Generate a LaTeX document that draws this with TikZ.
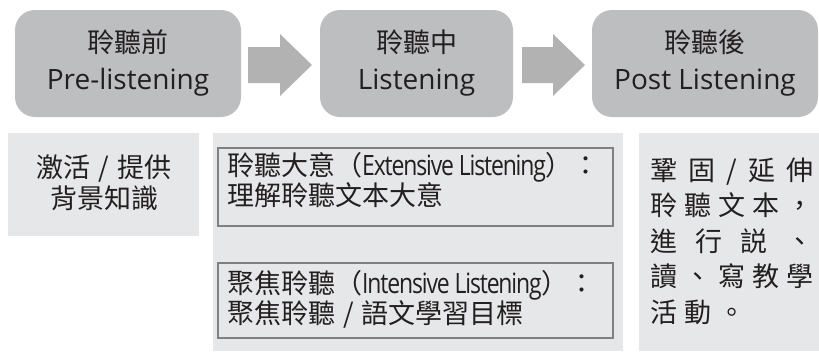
\documentclass[tikz,border=0pt]{standalone}
\usepackage{fontspec}
\usepackage{graphicx}
\setmainfont{Open Sans}
\newfontfamily\cjk{Noto Sans CJK TC}
\newfontfamily\latcond{Open Sans}[LetterSpace=-5]
\definecolor{topfill}{RGB}{189,190,192}
\definecolor{arrowfill}{RGB}{178,178,178}
\definecolor{lowfill}{RGB}{230,231,232}
\definecolor{innerline}{RGB}{128,128,128}
\definecolor{txt}{RGB}{35,31,32}
\tikzset{
  topbox/.style={fill=topfill, rounded corners=20pt},
  lowbox/.style={fill=lowfill},
  innerbox/.style={draw=innerline, line width=1.6pt, fill=lowfill},
  blockarrow/.style={fill=arrowfill},
  cjktxt/.style={inner sep=0pt, text=txt, font=\cjk\fontsize{27pt}{30pt}\selectfont},
  lattxt/.style={inner sep=0pt, text=txt, font=\fontsize{28pt}{32pt}\selectfont},
}
\newcommand{\condlat}[1]{\scalebox{0.82}[1]{\latcond\fontsize{28pt}{30pt}\selectfont #1}}
\newcommand{\wslash}{\hspace{8pt}/\hspace{8pt}}
\begin{document}
\begin{tikzpicture}[x=1pt,y=-1pt]
\useasboundingbox (0,0) rectangle (819,351);
% top boxes
\fill[topbox] (15,10) rectangle (241,117);
\fill[topbox] (320,10) rectangle (513,117);
\fill[topbox] (592,10) rectangle (818,117);
\node[cjktxt, anchor=base] (t1a) at (128,52) {聆聽前};
\node[lattxt, anchor=base] (t1b) at (128,89) {Pre-listening};
\node[cjktxt, anchor=base] (t2a) at (416.5,52) {聆聽中};
\node[lattxt, anchor=base] (t2b) at (416.5,89) {Listening};
\node[cjktxt, anchor=base] (t3a) at (705,52) {聆聽後};
\node[lattxt, anchor=base] (t3b) at (705,89) {Post Listening};
% block arrows
\fill[blockarrow] (248,47) -- (280,47) -- (280,34) -- (312,65) -- (280,96) -- (280,83) -- (248,83) -- cycle;
\fill[blockarrow] (522,47) -- (553,47) -- (553,34) -- (585,65) -- (553,96) -- (553,83) -- (522,83) -- cycle;
% lower boxes
\fill[lowbox] (8,133) rectangle (199,236);
\fill[lowbox] (213,133) rectangle (623,351);
\fill[lowbox] (639,133) rectangle (819,351);
% left text
\node[cjktxt, anchor=base] (l1) at (104,177) {激活\wslash 提供};
\node[cjktxt, anchor=base] (l2) at (104,208) {背景知識};
% inner boxes
\draw[innerbox] (218,148) rectangle (613,226);
\draw[innerbox] (218,263) rectangle (613,338);
\node[cjktxt, anchor=base west] (m1) at (227,175) {聆聽大意（\condlat{Extensive Listening}）：};
\node[cjktxt, anchor=base west] (m2) at (227,205) {理解聆聽文本大意};
\node[cjktxt, anchor=base west] (m3) at (227,293) {聚焦聆聽（\condlat{Intensive Listening}）：};
\node[cjktxt, anchor=base west] (m4) at (227,323) {聚焦聆聽\wslash 語文學習目標};
% right text
\node[cjktxt, anchor=base west] (r1) at (650,180) {\makebox[163pt][l]{鞏\hfill 固\hfill /\hfill 延\hfill 伸}};
\node[cjktxt, anchor=base west] (r2) at (650,215.5) {\makebox[163pt][l]{聆\hfill 聽\hfill 文\hfill 本\hfill ，}};
\node[cjktxt, anchor=base west] (r3) at (650,251) {\makebox[163pt][l]{進\hfill 行\hfill 説\hfill 、}};
\node[cjktxt, anchor=base west] (r4) at (650,286.5) {\makebox[163pt][l]{讀\hfill 、\hfill 寫\hfill 教\hfill 學}};
\node[cjktxt, anchor=base west] (r5) at (650,322) {活\hspace{7pt}動\hspace{7pt}。};
\end{tikzpicture}
\end{document}
